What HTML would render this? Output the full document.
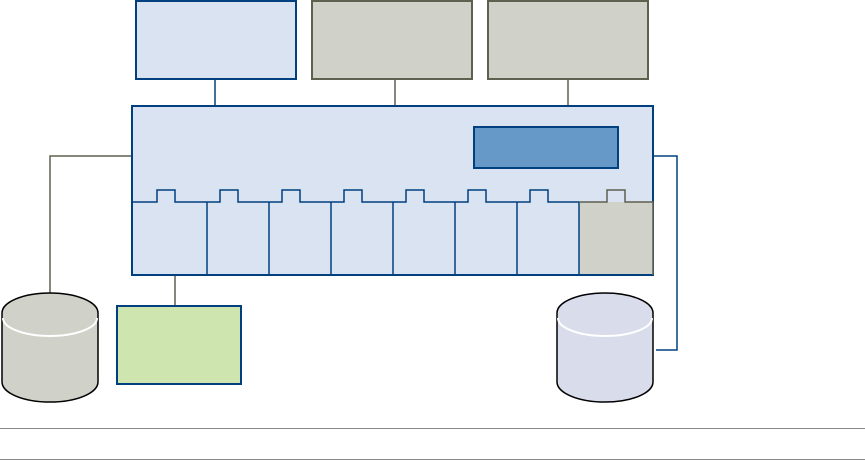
<!DOCTYPE html>
<html><head><meta charset="utf-8"><style>html,body{margin:0;padding:0;background:#fff;width:865px;height:460px;overflow:hidden}</style></head>
<body>
<svg width="865" height="460" viewBox="0 0 865 460" xmlns="http://www.w3.org/2000/svg">
<g fill="none" stroke-width="1.5">
<line x1="215" y1="78" x2="215" y2="106" stroke="#00407f"/>
<line x1="395" y1="78" x2="395" y2="106" stroke="#5f604f"/>
<line x1="568" y1="78" x2="568" y2="106" stroke="#5f604f"/>
<polyline points="132,156 50,156 50,296" stroke="#5f604f"/>
<polyline points="653,156 677,156 677,350 656,350" stroke="#00407f"/>
<line x1="175" y1="275" x2="175" y2="306" stroke="#5f604f"/>
</g>
<rect x="136" y="1" width="160" height="78" fill="#d9e3f2" stroke="#00407f" stroke-width="2"/>
<rect x="312" y="1" width="160" height="78" fill="#d0d1c8" stroke="#5f604f" stroke-width="2"/>
<rect x="488" y="1" width="160" height="78" fill="#d0d1c8" stroke="#5f604f" stroke-width="2"/>
<rect x="132" y="106" width="521" height="169" fill="#d9e3f2" stroke="#00407f" stroke-width="2"/>
<rect x="474" y="127" width="144" height="41" fill="#6699c8" stroke="#00407f" stroke-width="2"/>
<rect x="579" y="202" width="74" height="73" fill="#d0d1c8"/>
<g fill="none" stroke="#00407f" stroke-width="1.5">
<polyline points="132,202 157,202 157,190 175,190 175,202 220,202 220,190 238,190 238,202 282,202 282,190 300,190 300,202 344,202 344,190 362,190 362,202 406,202 406,190 424,190 424,202 468,202 468,190 486,190 486,202 530,202 530,190 548,190 548,202 579,202"/>
<line x1="207" y1="202" x2="207" y2="275"/>
<line x1="269" y1="202" x2="269" y2="275"/>
<line x1="331" y1="202" x2="331" y2="275"/>
<line x1="393" y1="202" x2="393" y2="275"/>
<line x1="455" y1="202" x2="455" y2="275"/>
<line x1="517" y1="202" x2="517" y2="275"/>
<line x1="579" y1="202" x2="579" y2="275"/>
<line x1="132" y1="275" x2="653" y2="275" stroke-width="2"/>
</g>
<polyline points="579,202 607,202 607,190 625,190 625,202 653,202 653,275" fill="none" stroke="#5f604f" stroke-width="1.5"/>
<rect x="117" y="306" width="124" height="78" fill="#cfe5b0" stroke="#00407f" stroke-width="2"/>
<g stroke="#000" stroke-width="1.5">
<path d="M2,313 A48,20 0 0 1 98,313 L98,382 A48,20 0 0 1 2,382 Z" fill="#d0d1c8"/>
<path d="M3,318 A47,18 0 0 0 97,318" fill="none" stroke="#fff" stroke-width="2"/>
<path d="M557,313 A48,20 0 0 1 653,313 L653,382 A48,20 0 0 1 557,382 Z" fill="#d9ddeb"/>
<path d="M558,318 A47,18 0 0 0 652,318" fill="none" stroke="#fff" stroke-width="2"/>
</g>
<line x1="0" y1="428.5" x2="865" y2="428.5" stroke="#888" stroke-width="1"/>
<line x1="0" y1="459.5" x2="865" y2="459.5" stroke="#888" stroke-width="1"/>
</svg>
</body></html>
